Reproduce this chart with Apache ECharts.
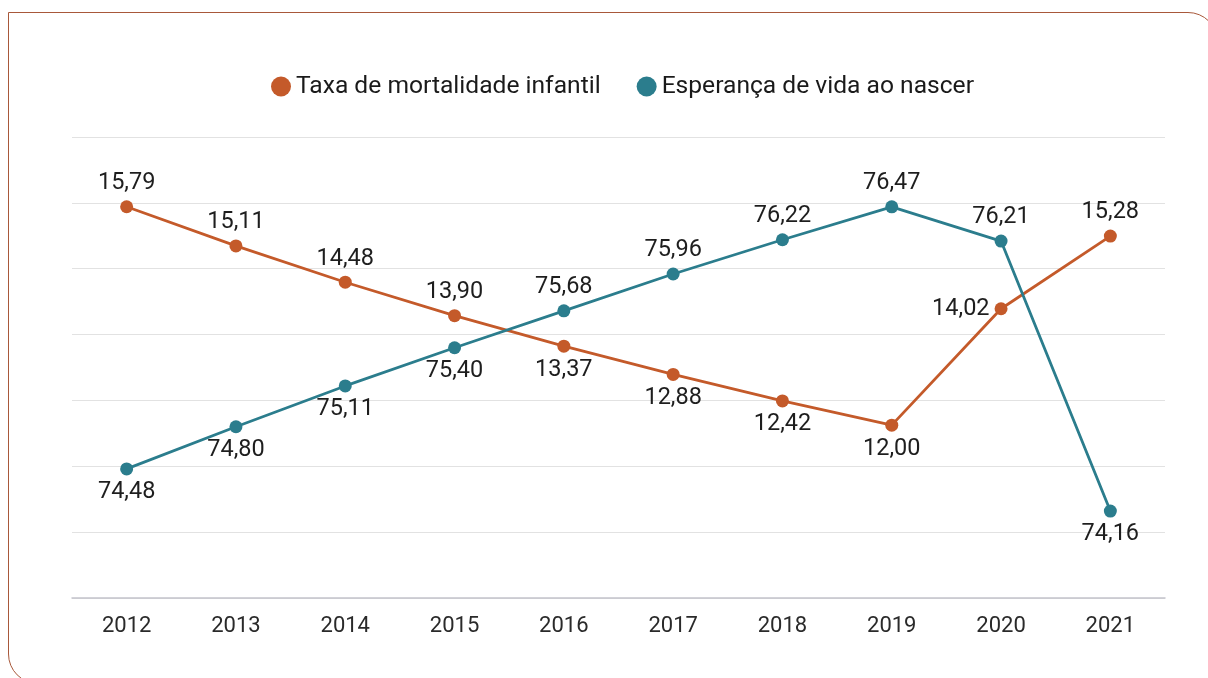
<!DOCTYPE html>
<html>
<head>
<meta charset="utf-8">
<script src="https://cdn.jsdelivr.net/npm/echarts@6/dist/echarts.min.js"></script>
<style>
html,body{margin:0;padding:0;background:#fff;overflow:hidden;}
#frame{position:absolute;left:8px;top:12px;width:1210px;height:672px;border:1.5px solid #a8583a;border-radius:0 30px 0 30px;box-sizing:border-box;}
#chart{position:absolute;left:0;top:0;width:1208px;height:678px;}
</style>
</head>
<body>
<div id="frame"></div>
<div id="chart"></div>
<script>
const years = ['2012','2013','2014','2015','2016','2017','2018','2019','2020','2021'];
const mortalidade = [15.79, 15.11, 14.48, 13.90, 13.37, 12.88, 12.42, 12.00, 14.02, 15.28];
const esperanca = [74.48, 74.80, 75.11, 75.40, 75.68, 75.96, 76.22, 76.47, 76.21, 74.16];
const mortPos = ['top','top','top','top','bottom','bottom','bottom','bottom','left','top'];
const espPos = ['bottom','bottom','bottom','bottom','top','top','top','top','top','bottom'];

const fmt = v => v.toFixed(2).replace('.', ',');
const ORANGE = '#c45a2a', TEAL = '#2b7d8d';
const FONT = 'Roboto';

function build(vals, pos){
  return vals.map((v,i)=>({value:v,label:{position:pos[i]}}));
}

const chart = echarts.init(document.getElementById('chart'));
chart.setOption({
  animation:false,
  textStyle:{fontFamily:FONT},
  legend:{
    top:69, left:266,
    icon:'circle', itemWidth:20, itemHeight:20, itemGap:36, itemTextGap:6,
    textStyle:{fontSize:24.6, color:'#1a1a1a', fontFamily:FONT},
    data:['Taxa de mortalidade infantil','Esperança de vida ao nascer']
  },
  grid:{left:72, right:43, top:137, bottom:80},
  xAxis:{
    type:'category', data:years, boundaryGap:true,
    axisLine:{lineStyle:{color:'#c4c4cc', width:1.5}},
    axisTick:{show:false},
    axisLabel:{fontSize:22, color:'#2a2a2a', margin:17, fontFamily:FONT}
  },
  yAxis:[
    {type:'value', min:73.5, max:77, interval:0.5, show:true,
     axisLine:{show:false}, axisTick:{show:false}, axisLabel:{show:false},
     splitLine:{lineStyle:{color:'#e2e2e2', width:1.2}}},
    {type:'value', min:9, max:17, interval:1, show:true,
     axisLine:{show:false}, axisTick:{show:false}, axisLabel:{show:false},
     splitLine:{show:false}}
  ],
  series:[
    {name:'Taxa de mortalidade infantil', type:'line', yAxisIndex:1,
     data:build(mortalidade, mortPos),
     symbol:'circle', symbolSize:13,
     lineStyle:{color:ORANGE, width:2.8}, itemStyle:{color:ORANGE},
     label:{show:true, fontSize:23.5, color:'#1e1e1e', distance:5, fontFamily:FONT,
            formatter:p=>fmt(p.value)}},
    {name:'Esperança de vida ao nascer', type:'line', yAxisIndex:0,
     data:build(esperanca, espPos),
     symbol:'circle', symbolSize:13,
     lineStyle:{color:TEAL, width:2.8}, itemStyle:{color:TEAL},
     label:{show:true, fontSize:23.5, color:'#1e1e1e', distance:5, fontFamily:FONT,
            formatter:p=>fmt(p.value)}}
  ]
});
</script>
</body>
</html>
